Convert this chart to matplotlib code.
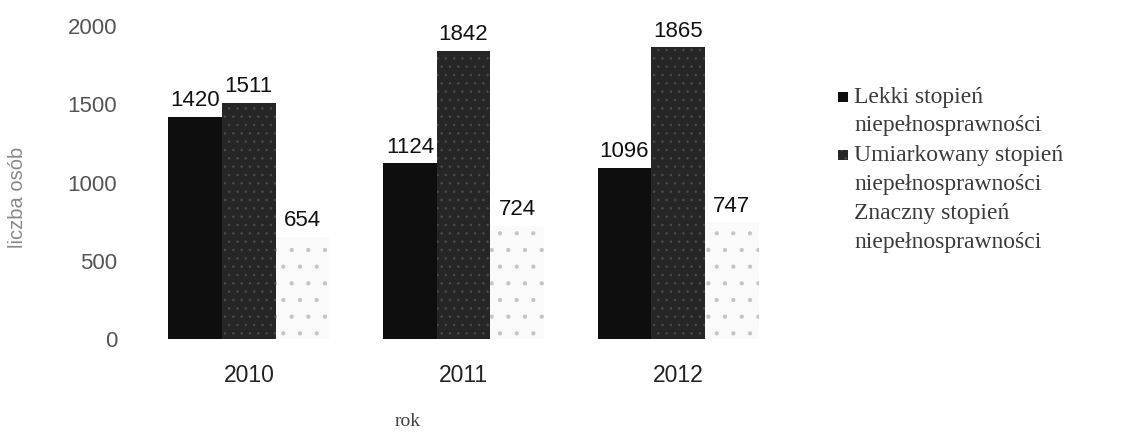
import matplotlib
matplotlib.use("Agg")
import matplotlib.pyplot as plt
from matplotlib.patches import Rectangle
import numpy as np

# Data: number of people by disability degree and year
years = ["2010", "2011", "2012"]
series_names = ["Lekki stopień\nniepełnosprawności",
                "Umiarkowany stopień\nniepełnosprawności",
                "Znaczny stopień\nniepełnosprawności"]
lekki = [1420, 1124, 1096]
umiarkowany = [1511, 1842, 1865]
znaczny = [654, 724, 747]

y_ticks = [0, 500, 1000, 1500, 2000]

plt.rcParams["hatch.linewidth"] = 0.6

fig = plt.figure(figsize=(11.43, 4.36), dpi=100)
ax = fig.add_axes([0.105, 0.222, 0.601, 0.718])

x = np.arange(len(years))
w = 0.25
styles = [
    dict(facecolor="#0e0e0e", edgecolor="#0e0e0e", hatch=None),
    dict(facecolor="#262626", edgecolor="#4a4a4a", hatch=".."),
    dict(facecolor="#fafafa", edgecolor="#c4c4c4", hatch="."),
]
values = [lekki, umiarkowany, znaczny]
for i, (vals, st) in enumerate(zip(values, styles)):
    bars = ax.bar(x + (i - 1) * w, vals, width=w, linewidth=0, **st)
    ax.bar_label(bars, labels=[str(v) for v in vals], padding=4,
                 fontsize=16, family="Liberation Sans", color="#111111")

ax.set_xlim(-0.6, 2.6)
ax.set_ylim(0, 2000)
ax.set_yticks(y_ticks)
ax.set_yticklabels([str(t) for t in y_ticks], family="Liberation Sans",
                   fontsize=16, color="#555555")
ax.set_xticks(x)
ax.set_xticklabels(years, family="Liberation Sans", fontsize=16.5,
                   color="#222222")
ax.tick_params(axis="both", length=0)
ax.tick_params(axis="x", pad=18)
ax.tick_params(axis="y", pad=2)
for s in ax.spines.values():
    s.set_visible(False)

ax.set_ylabel("liczba osób", family="Liberation Sans", fontsize=14.5,
              color="#888888", va="center")
ax.yaxis.set_label_coords((17 - 120) / 687, (339 - 197) / 313)
ax.set_xlabel("rok", family="Liberation Serif", fontsize=14,
              color="#444444", va="center")
ax.xaxis.set_label_coords((408 - 120) / 687, -(421 - 339) / 313)

# Legend drawn as colour squares plus two-line labels
W, H = 1143, 436
legend_x_box = 838
legend_x_text = 854
line_pitch = 29
first_y = 97
for i, (name, st) in enumerate(zip(series_names, styles)):
    y0 = first_y + i * 2 * line_pitch
    if i < 2:
        fig.patches.append(Rectangle(((legend_x_box) / W, 1 - (y0 + 5) / H),
                                     10 / W, 10 / H, transform=fig.transFigure,
                                     facecolor=st["facecolor"],
                                     edgecolor=st["edgecolor"],
                                     hatch=st["hatch"], linewidth=0))
    for j, line in enumerate(name.split("\n")):
        fig.text(legend_x_text / W, 1 - (y0 + j * line_pitch) / H, line,
                 family="Liberation Serif", fontsize=17, color="#3a3a3a",
                 va="center", ha="left")

fig.savefig("out.png", dpi=100, facecolor="white")
